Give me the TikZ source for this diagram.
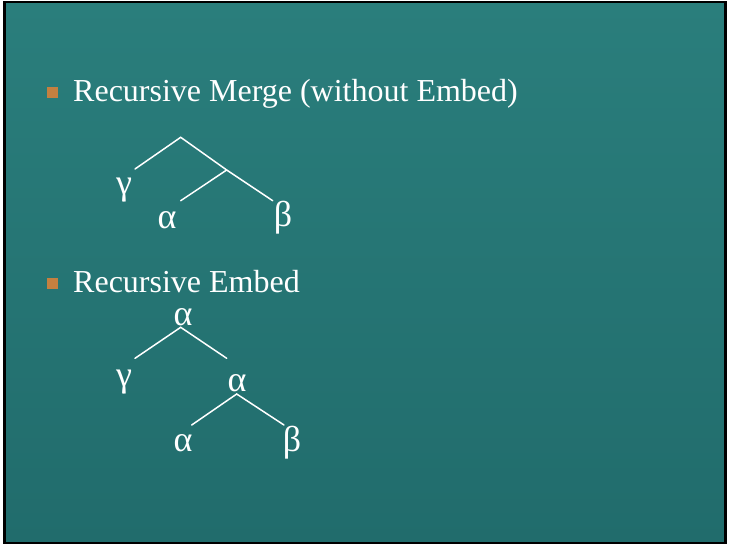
\documentclass[tikz,border=0pt]{standalone}
\usepackage{fontspec}
\setmainfont{Liberation Serif}
\definecolor{slidetop}{RGB}{42,126,124}
\definecolor{slidebot}{RGB}{33,108,108}
\definecolor{bulletorange}{RGB}{196,128,64}
\begin{document}
\begin{tikzpicture}[x=1pt,y=-1pt,
  branch/.style={draw=white,line width=1.5pt,line cap=round},
  label/.style={text=white,font=\fontsize{32}{36}\selectfont,inner sep=0pt},
  greek/.style={text=white,font=\fontsize{36}{40}\selectfont,inner sep=0pt},
  bulletsq/.style={fill=bulletorange,minimum size=11pt,inner sep=0pt}]
  \useasboundingbox (0,0) rectangle (729,547);
  % slide background and frame
  \fill[white] (0,0) rectangle (729,547);
  \shade[top color=slidetop,bottom color=slidebot] (4.5,2) rectangle (725.5,543);
  \draw[black,line width=2.2pt] (4.5,2) rectangle (725.5,543);

  % first bullet
  \node[bulletsq] (b1) at (52,92) {};
  \node[label,anchor=base west] (t1) at (73,101) {Recursive Merge (without Embed)};

  % Merge tree
  \coordinate (m0) at (180.7,137.3);
  \coordinate (mL) at (135,169);
  \coordinate (m1) at (226.7,170);
  \coordinate (mR) at (272.7,200.7);
  \coordinate (m1L) at (180.7,200.7);
  \node[greek] (g1) at (124,190) {γ};
  \node[greek] (a1) at (167,220) {α};
  \node[greek] (be1) at (283,218) {β};
  \draw[branch] (mL) -- (m0) -- (m1) -- (mR);
  \draw[branch] (m1) -- (m1L);

  % second bullet
  \node[bulletsq] (b2) at (52,283) {};
  \node[label,anchor=base west] (t2) at (73,292) {Recursive Embed};

  % Embed tree
  \node[greek] (a2) at (183,317) {α};
  \node[greek] (g2) at (124,382) {γ};
  \node[greek] (a3) at (237,383) {α};
  \node[greek] (a4) at (183,443) {α};
  \node[greek] (be2) at (292,443) {β};
  \coordinate (e0) at (180.7,327.3);
  \coordinate (eL) at (135,358.3);
  \coordinate (eR) at (226.7,358.3);
  \coordinate (e1) at (236.7,394);
  \coordinate (e1L) at (191.7,425);
  \coordinate (e1R) at (284,425);
  \draw[branch] (eL) -- (e0) -- (eR);
  \draw[branch] (e1L) -- (e1) -- (e1R);
\end{tikzpicture}
\end{document}
